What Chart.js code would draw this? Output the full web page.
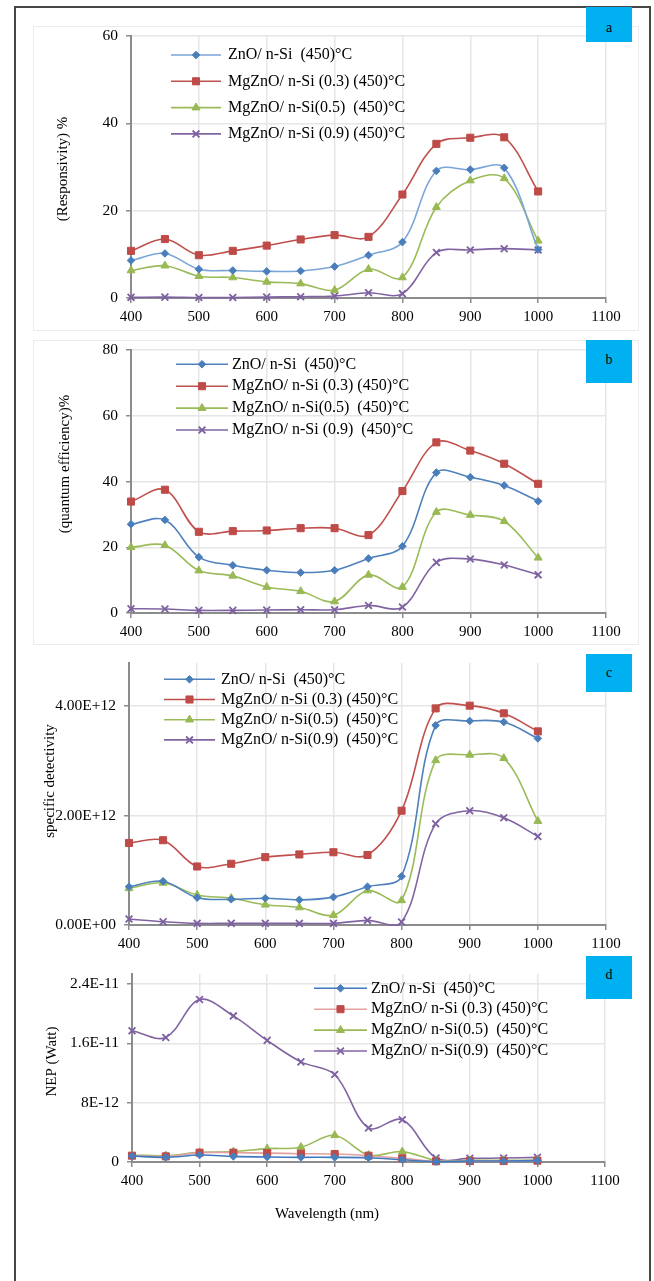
<!DOCTYPE html>
<html>
<head>
<meta charset="utf-8">
<script src="https://cdn.jsdelivr.net/npm/chart.js@4.4.1/dist/chart.umd.min.js"></script>
<style>
body { margin: 0; background: #fff; width: 654px; height: 1281px; position: relative; overflow: hidden; font-family: "Liberation Serif", serif; }
canvas { position: absolute; left: 0; }
.frame { position: absolute; left: 14px; top: 6px; width: 633px; height: 1300px; border: 2px solid #474747; border-bottom: none; }
.panel { position: absolute; left: 33px; width: 604px; border: 1px solid #ececec; }
.tag { position: absolute; left: 586px; width: 46px; height: 35px; background: #00B0F0; text-align: center; font-size: 14px; line-height: 14px; color: #000; box-sizing: border-box; padding-top: 14px; }
</style>
</head>
<body>
<div class="panel" style="top:26px;height:303px"></div>
<div class="panel" style="top:340px;height:303px"></div>
<canvas id="chartA" width="654" height="330" style="top:0px"></canvas>
<canvas id="chartB" width="654" height="315" style="top:330px"></canvas>
<canvas id="chartC" width="654" height="310" style="top:645px"></canvas>
<canvas id="chartD" width="654" height="326" style="top:955px"></canvas>
<div class="frame"></div>
<div class="tag" style="top:7px">a</div>
<div class="tag" style="top:340px;height:43px;padding-top:13px">b</div>
<div class="tag" style="top:654px;height:38px;padding-top:12px">c</div>
<div class="tag" style="top:956px;height:43px;padding-top:12px">d</div>
<script>
// wavelengths (nm)
const wavelengths = [400, 450, 500, 550, 600, 650, 700, 750, 800, 850, 900, 950, 1000];
const xTicks = [400, 500, 600, 700, 800, 900, 1000, 1100];

// legend labels (they differ slightly from panel to panel)
const labelsA = ['ZnO/ n-Si  (450)°C', 'MgZnO/ n-Si (0.3) (450)°C', 'MgZnO/ n-Si(0.5)  (450)°C', 'MgZnO/ n-Si (0.9) (450)°C'];
const labelsB = ['ZnO/ n-Si  (450)°C', 'MgZnO/ n-Si (0.3) (450)°C', 'MgZnO/ n-Si(0.5)  (450)°C', 'MgZnO/ n-Si (0.9)  (450)°C'];
const labelsC = ['ZnO/ n-Si  (450)°C', 'MgZnO/ n-Si (0.3) (450)°C', 'MgZnO/ n-Si(0.5)  (450)°C', 'MgZnO/ n-Si(0.9)  (450)°C'];
const labelsD = labelsC;

// (a) responsivity %
const respZnO  = [8.6, 10.2, 6.6, 6.3, 6.1, 6.2, 7.2, 9.8, 12.8, 29.1, 29.4, 29.8, 11.1];
const respMg03 = [10.8, 13.5, 9.8, 10.8, 12.0, 13.4, 14.4, 14.0, 23.7, 35.3, 36.7, 36.8, 24.4];
const respMg05 = [6.3, 7.4, 5.0, 4.7, 3.7, 3.3, 1.8, 6.6, 4.7, 20.8, 26.9, 27.4, 13.1];
const respMg09 = [0.15, 0.2, 0.1, 0.1, 0.2, 0.3, 0.45, 1.2, 1.0, 10.4, 11.0, 11.3, 11.0];
const respTicks = [0, 20, 40, 60];

// (b) quantum efficiency %
const qeZnO  = [27.0, 28.3, 17.0, 14.5, 13.0, 12.3, 13.0, 16.6, 20.3, 42.7, 41.3, 38.8, 34.0];
const qeMg03 = [33.9, 37.5, 24.7, 24.9, 25.1, 25.8, 25.8, 23.7, 37.1, 51.9, 49.4, 45.4, 39.3];
const qeMg05 = [20.0, 20.6, 12.9, 11.3, 7.9, 6.6, 3.5, 11.6, 7.9, 30.7, 29.8, 27.9, 16.8];
const qeMg09 = [1.3, 1.2, 0.8, 0.8, 0.9, 1.0, 1.0, 2.3, 1.8, 15.4, 16.4, 14.6, 11.6];
const qeTicks = [0, 20, 40, 60, 80];

// (c) specific detectivity
const detZnO  = [0.70e12, 0.80e12, 0.50e12, 0.47e12, 0.49e12, 0.46e12, 0.51e12, 0.70e12, 0.89e12, 3.65e12, 3.73e12, 3.71e12, 3.41e12];
const detMg03 = [1.50e12, 1.55e12, 1.07e12, 1.12e12, 1.24e12, 1.29e12, 1.33e12, 1.28e12, 2.09e12, 3.96e12, 4.01e12, 3.87e12, 3.54e12];
const detMg05 = [0.67e12, 0.77e12, 0.55e12, 0.49e12, 0.37e12, 0.32e12, 0.18e12, 0.63e12, 0.45e12, 3.01e12, 3.11e12, 3.05e12, 1.90e12];
const detMg09 = [0.11e12, 0.06e12, 0.03e12, 0.03e12, 0.03e12, 0.03e12, 0.03e12, 0.085e12, 0.055e12, 1.85e12, 2.09e12, 1.96e12, 1.62e12];
const detTicks = [0, 2e12, 4e12];

// (d) NEP (Watt)
const nepZnO  = [0.80e-12, 0.63e-12, 0.94e-12, 0.76e-12, 0.67e-12, 0.63e-12, 0.63e-12, 0.58e-12, 0.31e-12, 0.05e-12, 0.13e-12, 0.13e-12, 0.18e-12];
const nepMg03 = [0.85e-12, 0.76e-12, 1.26e-12, 1.26e-12, 1.20e-12, 1.12e-12, 1.08e-12, 0.85e-12, 0.50e-12, 0.10e-12, 0.13e-12, 0.13e-12, 0.18e-12];
const nepMg05 = [0.94e-12, 0.85e-12, 1.30e-12, 1.40e-12, 1.80e-12, 2.00e-12, 3.60e-12, 0.94e-12, 1.40e-12, 0.22e-12, 0.22e-12, 0.22e-12, 0.27e-12];
const nepMg09 = [17.7e-12, 16.8e-12, 21.9e-12, 19.7e-12, 16.4e-12, 13.5e-12, 11.8e-12, 4.6e-12, 5.7e-12, 0.54e-12, 0.49e-12, 0.54e-12, 0.63e-12];
const nepTicks = [0, 8e-12, 1.6e-11, 2.4e-11];

Chart.defaults.font.family = '"Liberation Serif", "Times New Roman", serif';
Chart.defaults.color = '#000';

// draws legend, axis titles inside the canvas
const extrasPlugin = {
  id: 'extras',
  afterDraw(chart, args, o) {
    const ctx = chart.ctx;
    ctx.save();
    ctx.fillStyle = '#000';
    ctx.textBaseline = 'middle';
    if (o.legend) {
      const L = o.legend;
      chart.data.datasets.forEach((ds, i) => {
        const y = L.y0 + i * L.dy;
        ctx.strokeStyle = ds.borderColor;
        ctx.lineWidth = ds.borderWidth;
        ctx.beginPath();
        ctx.moveTo(L.x0, y);
        ctx.lineTo(L.x1, y);
        ctx.stroke();
        ctx.fillStyle = ds.pointBackgroundColor;
        ctx.strokeStyle = ds.pointBorderColor;
        ctx.lineWidth = ds.pointBorderWidth;
        Chart.helpers.drawPoint(ctx, { pointStyle: ds.pointStyle, radius: ds.pointRadius, borderWidth: ds.pointBorderWidth, rotation: 0 }, (L.x0 + L.x1) / 2, y);
        ctx.fillStyle = '#000';
        ctx.font = '16px "Liberation Serif"';
        ctx.textAlign = 'left';
        ctx.fillText(ds.label, L.tx, y);
      });
    }
    ctx.font = '15px "Liberation Serif"';
    ctx.textAlign = 'center';
    if (o.yTitle) {
      ctx.save();
      ctx.translate(o.yTitle.x, o.yTitle.y);
      ctx.rotate(-Math.PI / 2);
      ctx.fillText(o.yTitle.text, 0, 0);
      ctx.restore();
    }
    if (o.xTitle) {
      ctx.fillText(o.xTitle.text, o.xTitle.x, o.xTitle.y);
    }
    ctx.restore();
  }
};

function sci2(v) {
  const parts = v.toExponential(2).split('e');
  const e = parts[1];
  return parts[0] + 'E' + e[0] + e.slice(1).padStart(2, '0');
}

function makeSets(labels, values, blueLine, redLine) {
  const styles = [
    { line: blueLine || '#4F81BD', mark: '#4A7EBB', shape: 'rectRot', r: 3.8 },
    { line: redLine || '#C0504D', mark: '#BE4B48', shape: 'rect', r: 5 },
    { line: '#9BBB59', mark: '#98B954', shape: 'triangle', r: 4.6 },
    { line: '#8064A2', mark: '#7D60A0', shape: 'crossRot', r: 4.8 }
  ];
  return values.map((vals, i) => ({
    label: labels[i],
    data: vals.map((v, j) => ({ x: wavelengths[j], y: v })),
    borderColor: styles[i].line,
    borderWidth: 1.6,
    pointStyle: styles[i].shape,
    pointRadius: styles[i].r,
    pointBackgroundColor: styles[i].mark,
    pointBorderColor: styles[i].mark,
    pointBorderWidth: i === 3 ? 1.8 : 1,
    tension: 0.35,
    clip: false
  }));
}

function makeChart(id, cfg) {
  const gridStyle = { color: '#e6e6e6', lineWidth: 1.5, tickLength: 5, tickColor: '#8c8c8c', tickWidth: 1.5 };
  return new Chart(document.getElementById(id), {
    type: 'line',
    data: { datasets: cfg.datasets },
    plugins: [extrasPlugin],
    options: {
      responsive: false,
      animation: false,
      events: [],
      layout: { padding: { left: 0, right: 654 - cfg.right, top: cfg.top, bottom: 0 } },
      elements: { line: { capBezierPoints: false } },
      plugins: { legend: { display: false }, tooltip: { enabled: false }, extras: cfg.extras },
      scales: {
        x: {
          type: 'linear', min: 400, max: 1100,
          afterFit: s => { s.height = cfg.h - cfg.bottom; },
          afterBuildTicks: s => { s.ticks = xTicks.map(v => ({ value: v })); },
          grid: gridStyle,
          border: { color: '#8c8c8c', width: 2 },
          ticks: { font: { size: 15 }, color: '#000', padding: 5, maxRotation: 0, autoSkip: false, callback: v => String(v) }
        },
        y: {
          type: 'linear', min: 0, max: cfg.max,
          afterFit: s => { s.width = cfg.left; },
          afterBuildTicks: s => { s.ticks = cfg.yTicks.map(v => ({ value: v })); },
          grid: gridStyle,
          border: { color: '#8c8c8c', width: 2 },
          ticks: { font: { size: 15.5 }, color: '#000', padding: 8, callback: cfg.fmt }
        }
      }
    }
  });
}

makeChart('chartA', {
  h: 330, top: 36, bottom: 298, left: 131, right: 606, max: 60, yTicks: respTicks,
  fmt: v => String(v),
  datasets: makeSets(labelsA, [respZnO, respMg03, respMg05, respMg09], '#7AA5D8'),
  extras: {
    yTitle: { text: '(Responsivity) %', x: 63, y: 169 },
    legend: { x0: 171, x1: 221, tx: 228, y0: 55, dy: 26.3 }
  }
});

makeChart('chartB', {
  h: 315, top: 20, bottom: 283, left: 131, right: 606, max: 80, yTicks: qeTicks,
  fmt: v => String(v),
  datasets: makeSets(labelsB, [qeZnO, qeMg03, qeMg05, qeMg09]),
  extras: {
    yTitle: { text: '(quantum efficiency)%', x: 65, y: 134 },
    legend: { x0: 176, x1: 228, tx: 232, y0: 34.3, dy: 21.9 }
  }
});

makeChart('chartC', {
  h: 310, top: 18, bottom: 280, left: 129, right: 606, max: 4.79e12, yTicks: detTicks,
  fmt: v => sci2(v),
  datasets: makeSets(labelsC, [detZnO, detMg03, detMg05, detMg09]),
  extras: {
    yTitle: { text: 'specific detectivity', x: 50, y: 136 },
    legend: { x0: 164, x1: 215, tx: 221, y0: 34.3, dy: 20.2 }
  }
});

makeChart('chartD', {
  h: 326, top: 19, bottom: 207, left: 132, right: 605, max: 2.535e-11, yTicks: nepTicks,
  fmt: v => (v === 0 ? '0' : v.toExponential().toUpperCase().replace('+', '')),
  datasets: makeSets(labelsD, [nepZnO, nepMg03, nepMg05, nepMg09], '#3F78C0', '#E3A19F'),
  extras: {
    yTitle: { text: 'NEP (Watt)', x: 52, y: 106.5 },
    xTitle: { text: 'Wavelength (nm)', x: 327, y: 259 },
    legend: { x0: 314, x1: 367, tx: 371, y0: 33.3, dy: 20.9 }
  }
});
</script>
</body>
</html>
